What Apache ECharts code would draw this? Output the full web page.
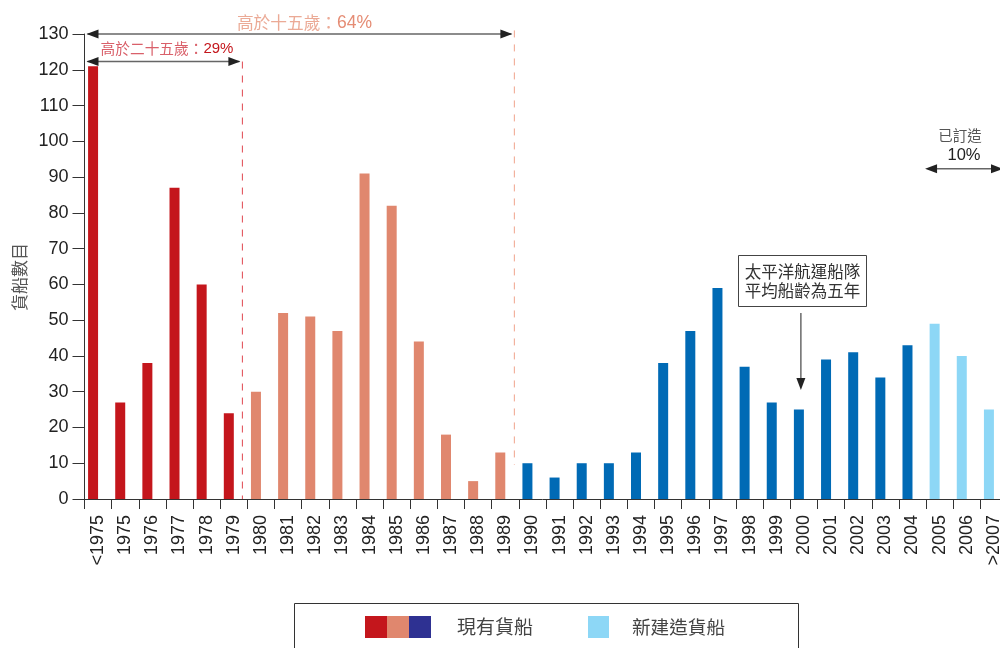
<!DOCTYPE html>
<html>
<head>
<meta charset="utf-8">
<script src="https://cdn.jsdelivr.net/npm/echarts@6/dist/echarts.min.js"></script>
<style>
html,body{margin:0;padding:0;background:#fff;overflow:hidden;}
#c{width:1000px;height:648px;}
</style>
</head>
<body>
<div id="c"></div>
<script>
// ---- data ----
const categories = ['<1975','1975','1976','1977','1978','1979','1980','1981','1982','1983','1984','1985','1986','1987','1988','1989','1990','1991','1992','1993','1994','1995','1996','1997','1998','1999','2000','2001','2002','2003','2004','2005','2006','>2007'];
const fleetOver25 = [121, 27, 38, 87, 60, 24];                         // <1975 – 1979
const fleet15to25 = [30, 52, 51, 47, 91, 82, 44, 18, 5, 13];           // 1980 – 1989
const fleetUnder15 = [10, 6, 10, 10, 13, 38, 47, 59, 37, 27, 25, 39, 41, 34, 43]; // 1990 – 2004
const newBuilds = [49, 40, 25];                                        // 2005 – >2007
const yTicks = [0, 130, 10];
const legendLabels = ['現有貨船', '新建造貨船'];
const yAxisName = '貨船數目';
const noteOver15 = ['高於十五歲：', '64%'];
const noteOver25 = ['高於二十五歲：', '29%'];
const noteOrdered = ['已訂造', '10%'];
const noteAvgAge = '太平洋航運船隊\n平均船齡為五年';

const C_RED = '#C4161C', C_SALMON = '#E0876E', C_BLUE = '#006AB5', C_LIGHT = '#8DD7F6', C_NAVY = '#2E3192';

function pad(arr, start) {
  const out = categories.map(() => '-');
  arr.forEach((v, i) => { out[start + i] = v; });
  return out;
}

const numFont = '"Liberation Sans", Arial, sans-serif';
const cjkFont = '"Noto Sans CJK TC", "Noto Sans CJK SC", sans-serif';

const chart = echarts.init(document.getElementById('c'));
const barBase = { type: 'bar', stack: 'fleet', barWidth: 10, barGap: 0, silent: true };
chart.setOption({
  animation: false,
  grid: { left: 84.5, width: 923, top: 34, bottom: 149, outerBoundsMode: 'none', containLabel: false },
  xAxis: {
    type: 'category', data: categories,
    axisLine: { lineStyle: { color: '#333', width: 1 } },
    axisTick: { show: true, length: 10, interval: 0, lineStyle: { color: '#333' } },
    axisLabel: { rotate: 90, margin: 16, fontSize: 18, color: '#222', fontFamily: numFont, interval: 0 }
  },
  yAxis: {
    type: 'value', min: yTicks[0], max: yTicks[1], interval: yTicks[2],
    axisLine: { show: true, lineStyle: { color: '#333' } },
    axisTick: { show: true, length: 12, lineStyle: { color: '#333' } },
    splitLine: { show: false },
    axisLabel: { fontSize: 18, color: '#222', margin: 16, fontFamily: numFont }
  },
  series: [
    Object.assign({}, barBase, { data: pad(fleetOver25, 0), itemStyle: { color: C_RED } }),
    Object.assign({}, barBase, { data: pad(fleet15to25, 6), itemStyle: { color: C_SALMON } }),
    Object.assign({}, barBase, { data: pad(fleetUnder15, 16), itemStyle: { color: C_BLUE } }),
    Object.assign({}, barBase, { data: pad(newBuilds, 31), itemStyle: { color: C_LIGHT } }),
    { type: 'bar', stack: 'spacer', barWidth: 10, barGap: 0, data: categories.map(() => '-'), silent: true }
  ]
});

// ---- annotations positioned via the axes ----
const cx = i => chart.convertToPixel({ xAxisIndex: 0 }, categories[i]);
const step = cx(1) - cx(0);
const bx = i => cx(i) - step / 2;        // left boundary of category i
const py = v => chart.convertToPixel({ yAxisIndex: 0 }, v);

function arrowHead(x, y, dir, color) {
  let pts;
  if (dir === 'r') pts = [[x, y], [x - 12, y - 4.5], [x - 12, y + 4.5]];
  else if (dir === 'l') pts = [[x, y], [x + 12, y - 4.5], [x + 12, y + 4.5]];
  else pts = [[x, y], [x - 4.5, y - 12], [x + 4.5, y - 12]];
  return { type: 'polygon', shape: { points: pts }, style: { fill: color || '#222' }, z: 10 };
}
function hline(x1, x2, y, color) {
  return { type: 'line', shape: { x1: x1, y1: y, x2: x2, y2: y }, style: { stroke: color || '#666', lineWidth: 1.5 }, z: 9 };
}

const g = [];
// dashed separators
const xRed = bx(6) - 5, xSalmon = bx(16) - 4.5;
g.push({ type: 'line', shape: { x1: xRed, y1: py(122.3), x2: xRed, y2: py(0) }, style: { stroke: '#E0464F', lineWidth: 1, lineDash: [7, 7] }, z: 5 });
g.push({ type: 'line', shape: { x1: xSalmon, y1: py(131), x2: xSalmon, y2: py(9.5) }, style: { stroke: '#F0A38C', lineWidth: 1, lineDash: [7, 7] }, z: 5 });

// over 15 arrow
const y130 = py(130);
g.push(hline(bx(0) + 3, xSalmon - 3, y130));
g.push(arrowHead(bx(0) + 2, y130, 'l'));
g.push(arrowHead(xSalmon - 2, y130, 'r'));
g.push({ type: 'text', x: 304.5, y: y130 - 11, style: { rich: { a: { fill: '#EBAA96', fontSize: 16.7, fontFamily: cjkFont }, b: { fill: '#E58C74', fontSize: 17.5, fontFamily: numFont } }, text: '{a|' + noteOver15[0] + '}{b|' + noteOver15[1] + '}', align: 'center', verticalAlign: 'middle' }, z: 10 });

// over 25 arrow
const y25 = py(122.3);
g.push(hline(bx(0) + 3, xRed - 3, y25));
g.push(arrowHead(bx(0) + 2, y25, 'l'));
g.push(arrowHead(xRed - 2, y25, 'r'));
g.push({ type: 'text', x: 167, y: y25 - 13, style: { rich: { a: { fill: '#D9606A', fontSize: 14.7, fontFamily: cjkFont }, b: { fill: C_RED, fontSize: 15, fontFamily: numFont } }, text: '{a|' + noteOver25[0] + '}{b|' + noteOver25[1] + '}', align: 'center', verticalAlign: 'middle' }, z: 10 });

// ordered arrow (right)
const yOrd = py(92.3);
const xOrd = bx(31) - 1;
g.push(hline(xOrd + 3, 1010, yOrd));
g.push(arrowHead(xOrd, yOrd, 'l'));
g.push(arrowHead(1003, yOrd, 'r'));
g.push({ type: 'text', x: 960, y: yOrd - 33, style: { text: noteOrdered[0], fill: '#555', fontSize: 14.5, fontFamily: cjkFont, align: 'center', verticalAlign: 'middle' }, z: 10 });
g.push({ type: 'text', x: 964, y: yOrd - 13.5, style: { text: noteOrdered[1], fill: '#222', fontSize: 16.5, fontFamily: numFont, align: 'center', verticalAlign: 'middle' }, z: 10 });

// callout box
const xAvg = cx(26) - 3;
g.push({ type: 'rect', shape: { x: 738.5, y: 255.5, width: 128, height: 51 }, style: { fill: '#fff', stroke: '#444', lineWidth: 1 }, z: 9 });
g.push({ type: 'text', x: 802.5, y: 281, style: { text: noteAvgAge, fill: '#333', fontSize: 16.5, lineHeight: 19, fontFamily: cjkFont, align: 'center', verticalAlign: 'middle' }, z: 10 });
g.push({ type: 'line', shape: { x1: xAvg, y1: 313, x2: xAvg, y2: py(30.5) - 10 }, style: { stroke: '#444', lineWidth: 1.2 }, z: 9 });
g.push(arrowHead(xAvg, py(30.5), 'd'));

// y axis name
g.push({ type: 'text', x: 20, y: 277, rotation: Math.PI / 2, style: { text: yAxisName, fill: '#555', fontSize: 17, fontFamily: cjkFont, align: 'center', verticalAlign: 'middle' }, z: 10 });

// legend box
g.push({ type: 'rect', shape: { x: 294.5, y: 603.5, width: 504, height: 60 }, style: { fill: '#fff', stroke: '#333', lineWidth: 1 }, z: 9 });
[C_RED, C_SALMON, C_NAVY].forEach((c, i) => {
  g.push({ type: 'rect', shape: { x: 365 + i * 22, y: 616, width: 22, height: 22 }, style: { fill: c }, z: 10 });
});
g.push({ type: 'text', x: 457, y: 627, style: { text: legendLabels[0], fill: '#444', fontSize: 19, fontFamily: cjkFont, verticalAlign: 'middle' }, z: 10 });
g.push({ type: 'rect', shape: { x: 588, y: 616, width: 21, height: 22 }, style: { fill: C_LIGHT }, z: 10 });
g.push({ type: 'text', x: 632, y: 627, style: { text: legendLabels[1], fill: '#444', fontSize: 18.6, fontFamily: cjkFont, verticalAlign: 'middle' }, z: 10 });

chart.setOption({ graphic: { elements: g } });
</script>
</body>
</html>
